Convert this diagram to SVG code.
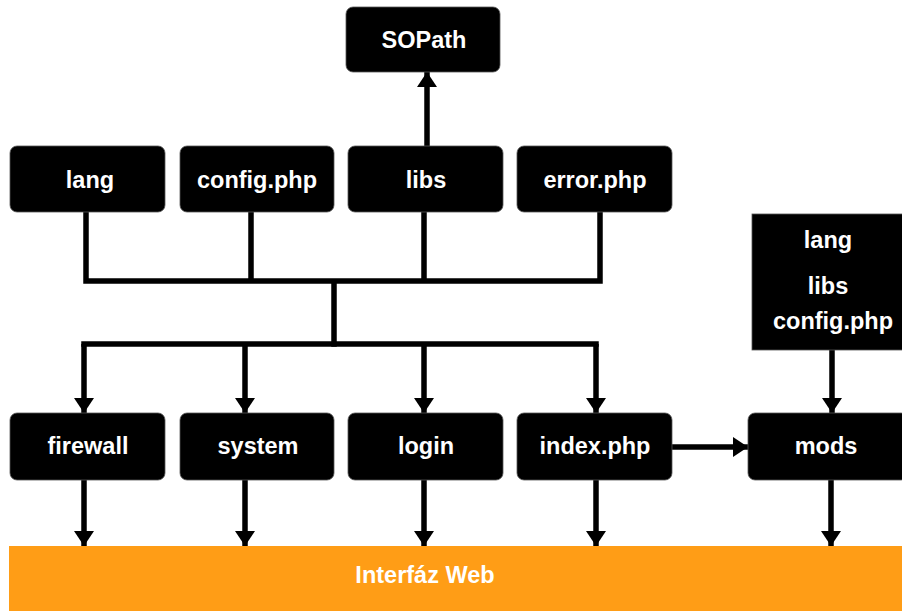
<svg xmlns="http://www.w3.org/2000/svg" width="902" height="611" viewBox="0 0 902 611">
<style>
.box{fill:#000;stroke:#555;stroke-width:0.8}
.lbl{font-family:"Liberation Sans",Arial,sans-serif;font-weight:bold;font-size:23.5px;fill:#fff;text-anchor:middle}
.wire{fill:none;stroke:#000;stroke-width:5.5;stroke-linejoin:miter;stroke-linecap:square}
.arr{fill:none;stroke:#000;stroke-width:5.5;marker-end:url(#ah)}
</style>
<defs>
<marker id="ah" markerUnits="userSpaceOnUse" markerWidth="20" markerHeight="22" viewBox="0 0 20 22" refX="17" refY="11" orient="auto">
<path d="M2,1 L17,11 L2,21 Z" fill="#000"/>
</marker>
</defs>
<rect width="902" height="611" fill="#fff"/>
<g id="interfaz">
<rect x="9" y="546" width="893" height="65" fill="#FF9D16"/>
<text class="lbl" x="425" y="583">Interfáz Web</text>
</g>
<g id="connectors">
<path class="wire" d="M86,212 V281 H600 V212 M251,212 V281 M424,212 V281 M334,281 V344"/>
<path class="wire" d="M84,344 H596"/>
<path class="arr" d="M84,344 V413"/>
<path class="arr" d="M245,344 V413"/>
<path class="arr" d="M424,344 V413"/>
<path class="arr" d="M596,344 V413"/>
<path class="arr" d="M427,147 V72"/>
<path class="arr" d="M672,447 H748"/>
<path class="arr" d="M832,350 V413"/>
<path class="arr" d="M84,480 V546"/>
<path class="arr" d="M245,480 V546"/>
<path class="arr" d="M424,480 V546"/>
<path class="arr" d="M596,480 V546"/>
<path class="arr" d="M831,480 V546"/>
</g>
<g id="sopath"><rect class="box" x="346" y="7" width="154" height="65" rx="7"/><text class="lbl" x="424" y="48">SOPath</text></g>
<g id="lang"><rect class="box" x="10" y="146" width="155" height="66" rx="7"/><text class="lbl" x="90" y="188">lang</text></g>
<g id="config"><rect class="box" x="180" y="146" width="154" height="66" rx="7"/><text class="lbl" x="257" y="188">config.php</text></g>
<g id="libs"><rect class="box" x="348" y="146" width="155" height="66" rx="7"/><text class="lbl" x="426" y="188">libs</text></g>
<g id="error"><rect class="box" x="517" y="146" width="155" height="66" rx="7"/><text class="lbl" x="595" y="188">error.php</text></g>
<g id="firewall"><rect class="box" x="10" y="413" width="155" height="67" rx="7"/><text class="lbl" x="88" y="454">firewall</text></g>
<g id="system"><rect class="box" x="180" y="413" width="154" height="67" rx="7"/><text class="lbl" x="258" y="454">system</text></g>
<g id="login"><rect class="box" x="348" y="413" width="155" height="67" rx="7"/><text class="lbl" x="426" y="454">login</text></g>
<g id="index"><rect class="box" x="517" y="413" width="155" height="67" rx="7"/><text class="lbl" x="595" y="454">index.php</text></g>
<g id="mods"><rect class="box" x="748" y="413" width="160" height="67" rx="7"/><text class="lbl" x="826" y="454">mods</text></g>
<g id="modsdeps"><rect class="box" x="752" y="214" width="156" height="136"/>
<text class="lbl" x="828" y="248">lang</text>
<text class="lbl" x="828" y="294">libs</text>
<text class="lbl" x="833" y="329">config.php</text></g>
</svg>
